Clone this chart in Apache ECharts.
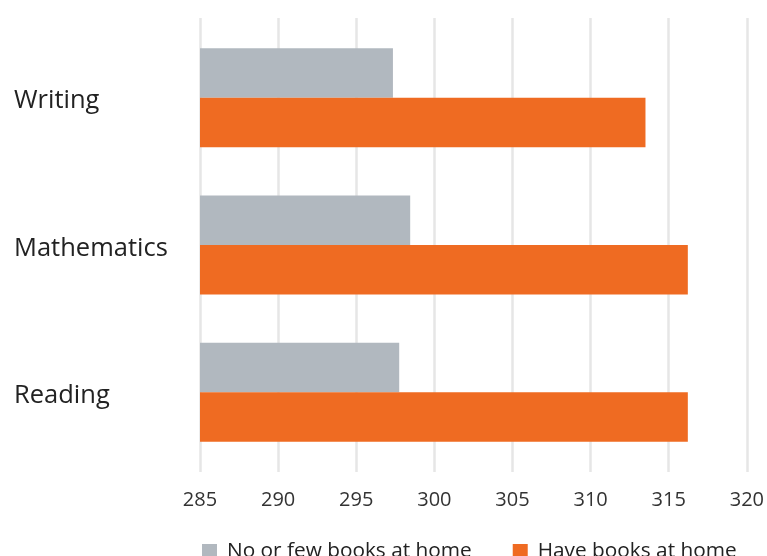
<!DOCTYPE html>
<html>
<head>
<meta charset="utf-8">
<script src="https://cdn.jsdelivr.net/npm/echarts@6/dist/echarts.min.js"></script>
<style>
  html, body { margin: 0; padding: 0; background: #ffffff; }
  #chart { width: 767px; height: 556px; }
</style>
</head>
<body>
<div id="chart"></div>
<script>
// Subjects, top to bottom
const subjects = ['Writing', 'Mathematics', 'Reading'];
const seriesNames = ['No or few books at home', 'Have books at home'];
// Mean scores per subject
const fewBooks = [297.3, 298.4, 297.7];
const haveBooks = [313.4, 316.1, 316.1];
const axisMin = 285;
const axisMax = 320;
const axisStep = 5;

const FONT = '"Open Sans", Roboto, "Liberation Sans", Arial, sans-serif';
const GRAY = '#b1b8bf';
const ORANGE = '#ef6b22';

const chart = echarts.init(document.getElementById('chart'), null, { renderer: 'canvas' });

chart.setOption({
  animation: false,
  backgroundColor: '#ffffff',
  textStyle: { fontFamily: FONT },
  legend: {
    data: seriesNames,
    left: 197,
    top: 536,
    itemWidth: 15,
    itemHeight: 15,
    itemGap: 41,
    icon: 'rect',
    textStyle: { fontSize: 20.8, color: '#222222', fontFamily: FONT, padding: [0, 0, 0, 5] }
  },
  grid: [
    // bars
    { left: 200, right: 18, top: 24, bottom: 90 },
    // gridlines and tick labels, a little taller than the bar area
    { left: 200, right: 18, top: 18, bottom: 84 }
  ],
  xAxis: [
    {
      gridIndex: 0, type: 'value', min: axisMin, max: axisMax, interval: axisStep,
      axisLine: { show: false }, axisTick: { show: false },
      axisLabel: { show: false }, splitLine: { show: false }
    },
    {
      gridIndex: 1, type: 'value', min: axisMin, max: axisMax, interval: axisStep,
      axisLine: { show: false }, axisTick: { show: false },
      axisLabel: { fontSize: 20, color: '#333333', margin: 18, fontFamily: FONT },
      splitLine: { show: true, lineStyle: { color: '#e6e6e6', width: 2.5 } }
    }
  ],
  yAxis: [
    {
      gridIndex: 0, type: 'category', data: subjects, inverse: true,
      axisLine: { show: false }, axisTick: { show: false },
      axisLabel: {
        align: 'left', margin: 186,
        formatter: '{s|{value}}',
        rich: {
          s: {
            fontSize: 25.5, color: '#222222', fontFamily: FONT,
            lineHeight: 30, padding: [7, 0, 0, 0]
          }
        }
      }
    },
    {
      gridIndex: 1, type: 'category', data: subjects, inverse: true,
      axisLine: { show: false }, axisTick: { show: false },
      axisLabel: { show: false }, splitLine: { show: false }
    }
  ],
  series: [
    {
      name: seriesNames[0], type: 'bar', xAxisIndex: 0, yAxisIndex: 0,
      data: fewBooks, barWidth: 49.5, barGap: '0%',
      itemStyle: { color: GRAY }
    },
    {
      name: seriesNames[1], type: 'bar', xAxisIndex: 0, yAxisIndex: 0,
      data: haveBooks, barWidth: 49.5, barGap: '0%',
      itemStyle: { color: ORANGE }
    }
  ]
});
</script>
</body>
</html>
